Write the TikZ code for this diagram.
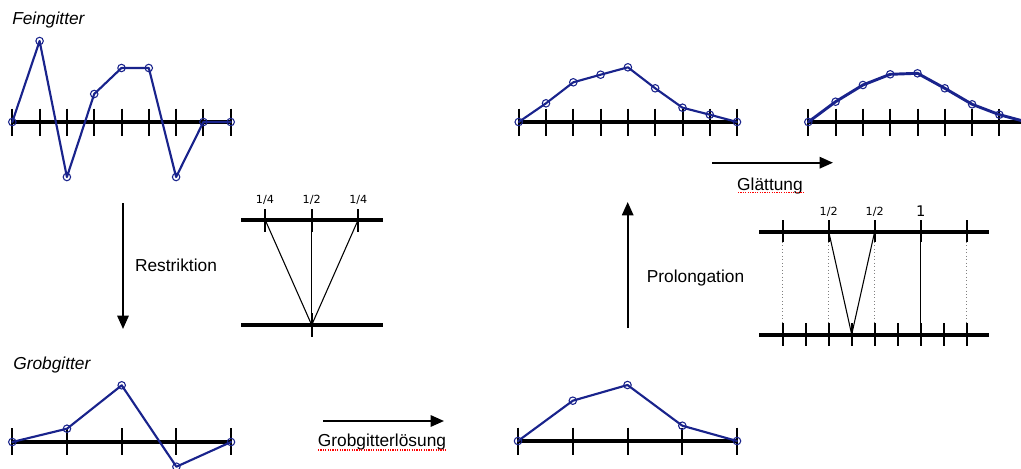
\documentclass[tikz,border=0pt]{standalone}
\usepackage{fontspec}
\setmainfont{Liberation Sans}
\newfontfamily\dejavu{DejaVu Sans}
\usetikzlibrary{arrows.meta}
\definecolor{navy}{RGB}{25,35,140}
\tikzset{
  axisline/.style={line width=3pt, black},
  tk/.style={line width=1.5pt, black},
  curve/.style={navy, line width=1.6pt, line join=round, line cap=round},
  pt/.style={circle, draw=navy, line width=0.8pt, inner sep=0pt, minimum size=5.6pt},
  lbl/.style={font=\fontsize{13}{15}\selectfont, inner sep=0pt, anchor=base},
  ttl/.style={font=\fontsize{13}{15}\selectfont\itshape, inner sep=0pt, anchor=base west},
  arr/.style={line width=1.5pt, -{Triangle[length=10pt,width=8.5pt]}},
  frc/.style={font=\dejavu\fontsize{8.4}{9}\selectfont, inner sep=0pt, anchor=base},
  one/.style={font=\dejavu\fontsize{11}{12}\selectfont, inner sep=0pt, anchor=base},
  thinl/.style={line width=0.8pt, black},
  dots/.style={gray, line width=0.6pt, dotted},
  spell/.style={red, line width=0.9pt, dash pattern=on 0.9pt off 0.9pt},
}
\begin{document}
\begin{tikzpicture}[x=0.75pt, y=-0.75pt]
\useasboundingbox (0,0) rectangle (1021,468);

% ---------- Titles ----------
\node[ttl] (tfein) at (12,24) {Feingitter};
\node[ttl] (tgrob) at (13,369) {Grobgitter};

% ---------- Graph 1: fine grid (top left) ----------
\draw[axisline] (12,122) -- (231,122);
\foreach \x in {12.3,39.6,66.9,94.2,121.5,148.8,176.1,203.4,230.7}
  \draw[tk] (\x,108.5) -- (\x,136);
\foreach \n/\x/\y in {1/12.3/122,2/39.6/41,3/66.9/177,4/94.2/94,5/121.5/68,6/148.8/68,7/176.1/177,8/203.4/122,9/230.7/122}
  \node[pt] (fa\n) at (\x,\y) {};
\draw[curve] (fa1.center) -- (fa2.center) -- (fa3.center) -- (fa4.center) -- (fa5.center)
  -- (fa6.center) -- (fa7.center) -- (fa8.center) -- (fa9.center);

% ---------- Graph 2: smoothed (top middle) ----------
\draw[axisline] (518,122) -- (737,122);
\foreach \x in {518.7,546,573.3,600.6,627.9,655.2,682.5,709.8,737}
  \draw[tk] (\x,108.5) -- (\x,136);
\foreach \n/\x/\y in {1/518.7/122,2/546/103.3,3/573.3/82.3,4/600.6/74.7,5/627.9/67.3,6/655.2/88.3,7/682.5/107.7,8/709.8/114.7,9/737/122}
  \node[pt] (fb\n) at (\x,\y) {};
\draw[curve] (fb1.center) -- (fb2.center) -- (fb3.center) -- (fb4.center) -- (fb5.center)
  -- (fb6.center) -- (fb7.center) -- (fb8.center) -- (fb9.center);

% ---------- Graph 3: smoothed more (top right) ----------
\draw[axisline] (808,122) -- (1030,122);
\foreach \x in {808.3,835.6,862.9,890.2,917.5,944.8,972.1,999.4}
  \draw[tk] (\x,108.5) -- (\x,136);
\foreach \n/\x/\y in {1/808.3/122,2/835.6/101.7,3/862.9/85,4/890.2/74.3,5/917.5/73.3,6/944.8/88.3,7/972.1/104.3,8/999.4/114.7}
  \node[pt] (fc\n) at (\x,\y) {};
\coordinate (fc9) at (1026.7,122);
\draw[curve, line width=2.2pt] (fc1.center) -- (fc2.center) -- (fc3.center) -- (fc4.center) -- (fc5.center)
  -- (fc6.center) -- (fc7.center) -- (fc8.center) -- (fc9);

% ---------- Graph 4: coarse grid (bottom left) ----------
\draw[axisline] (12,442) -- (231,442);
\foreach \x in {12.3,67,121.7,176.4,231}
  \draw[tk] (\x,428) -- (\x,455);
\foreach \n/\x/\y in {1/12.3/442,2/67/428.7,3/121.7/385.3,4/176.4/466.7,5/231/442}
  \node[pt] (ga\n) at (\x,\y) {};
\draw[curve] (ga1.center) -- (ga2.center) -- (ga3.center) -- (ga4.center) -- (ga5.center);

% ---------- Graph 5: coarse solution (bottom middle) ----------
\draw[axisline] (518,441) -- (737,441);
\foreach \x in {518,572.8,627.5,682.3,737}
  \draw[tk] (\x,427.5) -- (\x,455);
\foreach \n/\x/\y in {1/518/441,2/572.8/400.7,3/627.5/385,4/682.3/425.7,5/737/441}
  \node[pt] (gb\n) at (\x,\y) {};
\draw[curve] (gb1.center) -- (gb2.center) -- (gb3.center) -- (gb4.center) -- (gb5.center);

% ---------- Arrows and labels ----------
\coordinate (rs) at (123,203); \coordinate (re) at (123,329);
\draw[arr] (rs) -- (re);
\node[lbl] (lres) at (176,271) {Restriktion};

\coordinate (ps) at (627.7,328); \coordinate (pe) at (627.7,202);
\draw[arr] (ps) -- (pe);
\node[lbl] (lpro) at (695.5,282) {Prolongation};

\coordinate (gs) at (712,162.7); \coordinate (ge) at (833,162.7);
\draw[arr] (gs) -- (ge);
\node[lbl] (lgl) at (770,190) {Glättung};
\draw[spell] (738,192.5) -- (803,192.5);

\coordinate (cs) at (323,421); \coordinate (ce) at (444,421);
\draw[arr] (cs) -- (ce);
\node[lbl] (lgr) at (382,446) {Grobgitterlösung};
\draw[spell] (318,450) -- (447,450);

% ---------- Restriction stencil ----------
\draw[axisline] (241,219.5) -- (383,219.5);
\draw[axisline] (241,325) -- (383,325);
\foreach \x in {265,311.7,358.3}
  \draw[tk] (\x,209) -- (\x,232);
\draw[tk] (311.7,313) -- (311.7,337);
\coordinate (ra) at (265,219.5);
\coordinate (rb) at (311.7,219.5);
\coordinate (rc) at (358.3,219.5);
\coordinate (rd) at (311.7,325);
\draw[thinl] (ra) -- (rd);
\draw[thinl] (rb) -- (rd);
\draw[thinl] (rc) -- (rd);
\node[frc] (q1) at (265,203.5) {1/4};
\node[frc] (q2) at (311.7,203.5) {1/2};
\node[frc] (q3) at (358.3,203.5) {1/4};

% ---------- Prolongation stencil ----------
\draw[axisline] (759,231.5) -- (989,231.5);
\draw[axisline] (759,334.5) -- (989,334.5);
\foreach \x in {782.7,828.7,874.7,920.7,966.7}
  \draw[tk] (\x,220) -- (\x,242);
\foreach \x in {782.7,805.7,828.7,851.7,874.7,897.7,920.7,943.7,966.7}
  \draw[tk] (\x,323) -- (\x,346);
\foreach \x in {782.7,828.7,874.7,966.7}
  \draw[dots] (\x,242) -- (\x,323);
\coordinate (pa) at (828.7,231.5);
\coordinate (pb) at (874.7,231.5);
\coordinate (pc) at (920.7,231.5);
\coordinate (pd) at (851.7,334.5);
\coordinate (pf) at (920.7,334.5);
\draw[thinl] (pa) -- (pd);
\draw[thinl] (pb) -- (pd);
\draw[thinl] (pc) -- (pf);
\node[frc] (h1) at (828.7,215.5) {1/2};
\node[frc] (h2) at (874.7,215.5) {1/2};
\node[one] (h3) at (920.7,216.5) {1};
\end{tikzpicture}
\end{document}
